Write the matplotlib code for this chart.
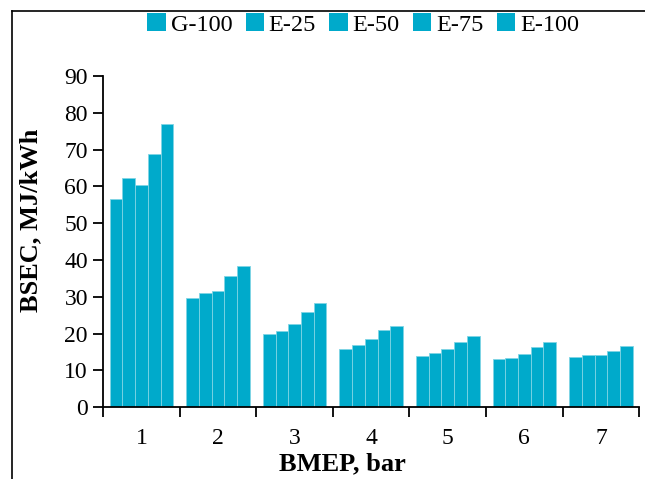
import numpy as np
import matplotlib.pyplot as plt
from matplotlib.lines import Line2D
from matplotlib.patches import Patch

plt.rcParams['font.family'] = ['Liberation Serif', 'DejaVu Serif']

bmep = ['1', '2', '3', '4', '5', '6', '7']
fuels = ['G-100', 'E-25', 'E-50', 'E-75', 'E-100']
g100 = [56.7, 29.8, 20.0, 15.7, 13.9, 13.1, 13.6]
e25 = [62.2, 31.1, 20.7, 16.9, 14.7, 13.5, 14.2]
e50 = [60.3, 31.5, 22.6, 18.4, 15.9, 14.5, 14.3]
e75 = [68.7, 35.7, 25.8, 21.1, 17.8, 16.3, 15.4]
e100 = [76.9, 38.5, 28.2, 22.2, 19.3, 17.7, 16.5]
series = [g100, e25, e50, e75, e100]

color = '#00AACB'

fig = plt.figure(figsize=(6.45, 4.79), dpi=100)
ax = fig.add_axes([0.16, 0.150, 0.831, 0.691])

x = np.arange(1, len(bmep) + 1)
w = 0.166
for i, vals in enumerate(series):
    ax.bar(x + (i - 2) * w, vals, width=w, color=color, edgecolor='#7fd4e4',
           linewidth=0.6, label=fuels[i])

ax.set_xlim(0.5, 7.5)
ax.set_ylim(0, 90)
ax.set_yticks(np.arange(0, 91, 10))
ax.set_xticks(np.arange(0.5, 8, 1))
ax.set_xticklabels([])
ax.set_xticks(x, minor=True)
ax.set_xticklabels(bmep, minor=True)
ax.tick_params(axis='x', which='major', direction='out', length=7, width=1.3)
ax.tick_params(axis='x', which='minor', length=0, pad=15, labelsize=17)
ax.tick_params(axis='y', direction='out', length=7, width=1.3, labelsize=17, pad=4)
for s in ['top', 'right']:
    ax.spines[s].set_visible(False)
for s in ['left', 'bottom']:
    ax.spines[s].set_linewidth(1.3)

ax.set_xlabel('BMEP, bar', fontsize=19, fontweight='bold')
ax.set_ylabel('BSEC, MJ/kWh', fontsize=19, fontweight='bold')
ax.xaxis.set_label_coords(0.446, -0.135)
ax.yaxis.set_label_coords(-0.114, 0.565)

handles = [Patch(facecolor=color, edgecolor='none') for _ in fuels]
fig.legend(handles, fuels, loc='center', bbox_to_anchor=(0.563, 0.949),
           ncol=5, frameon=False, fontsize=17.5, handlelength=0.75, handleheight=0.75,
           handletextpad=0.2, columnspacing=0.55)

# outer frame lines (top and left)
fig.add_artist(Line2D([12 / 645, 1], [1 - 11 / 479, 1 - 11 / 479], color='black', lw=1.2,
                      transform=fig.transFigure))
fig.add_artist(Line2D([12 / 645, 12 / 645], [0, 1 - 11 / 479], color='black', lw=1.2,
                      transform=fig.transFigure))

fig.savefig('out.png', dpi=100)
